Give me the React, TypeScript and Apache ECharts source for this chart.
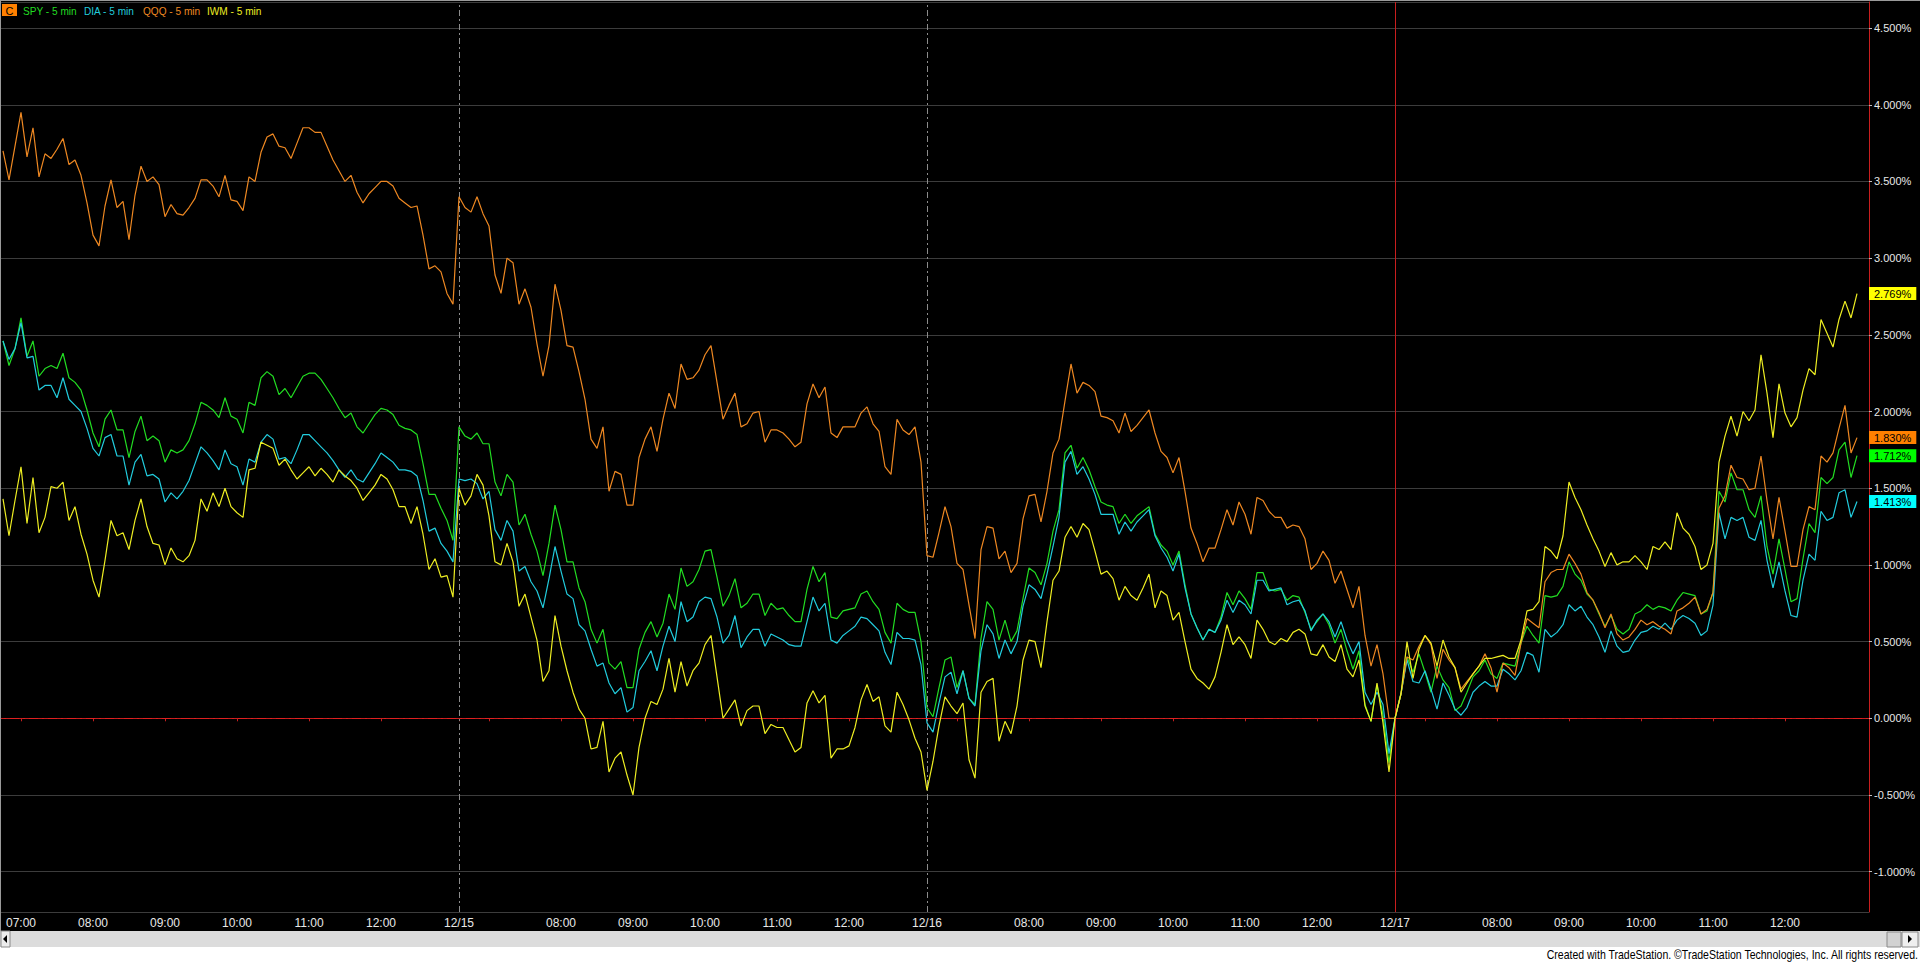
import React, { useEffect, useRef } from 'react';
import * as echarts from 'echarts';

// ---- data (percent change, 5-min bars) ----
const DAYS = ['12/14', '12/15', '12/16', '12/17'];
const BARS_PER_DAY = 78; // 06:35 .. 13:00
const FIRST_BAR = 2; // first visible bar of the 12/14 session (06:45)
const SYMBOLS = ['SPY - 5 min', 'DIA - 5 min', 'QQQ - 5 min', 'IWM - 5 min'];
const LINE_COLORS = ['#22dd22', '#22ccdd', '#ee8822', '#eeee22'];
const BOX_COLORS = ['#00ff00', '#00ffff', '#ff8000', '#ffff00'];

const SPY_1214 = [2.46,2.30,2.41,2.61,2.36,2.46,2.23,2.28,2.30,2.28,2.38,2.22,2.19,2.14,2.01,1.86,1.77,1.95,2.01,1.88,1.88,1.70,1.87,1.97,1.81,1.84,1.81,1.67,1.75,1.73,1.75,1.81,1.92,2.06,2.04,2.01,1.96,2.09,1.97,1.95,1.86,2.06,2.04,2.22,2.26,2.23,2.11,2.15,2.09,2.16,2.23,2.25,2.25,2.21,2.15,2.09,2.02,1.96,1.99,1.90,1.86,1.92,1.98,2.02,2.01,1.98,1.91,1.89,1.88,1.85,1.66,1.46,1.46,1.37,1.29,1.16];
const SPY_1215 = [1.90,1.84,1.82,1.86,1.79,1.79,1.54,1.45,1.59,1.54,1.26,1.33,1.20,1.09,0.93,1.14,1.39,1.23,1.02,1.02,0.85,0.76,0.58,0.49,0.58,0.36,0.32,0.37,0.20,0.20,0.45,0.56,0.63,0.53,0.62,0.81,0.71,0.98,0.86,0.89,0.97,1.09,1.10,0.92,0.73,0.80,0.91,0.72,0.75,0.81,0.81,0.67,0.75,0.71,0.72,0.67,0.63,0.63,0.84,0.99,0.89,0.95,0.66,0.65,0.70,0.71,0.72,0.81,0.83,0.76,0.71,0.56,0.49,0.75,0.71,0.69,0.69,0.50];
const SPY_1216 = [0.07,0.01,0.20,0.38,0.40,0.20,0.31,0.13,0.09,0.52,0.76,0.71,0.51,0.64,0.50,0.57,0.78,0.98,0.95,0.87,1.01,1.22,1.36,1.73,1.78,1.63,1.70,1.62,1.51,1.41,1.39,1.38,1.27,1.33,1.27,1.32,1.35,1.38,1.20,1.13,1.09,1.00,1.09,0.87,0.68,0.59,0.51,0.58,0.56,0.66,0.82,0.74,0.83,0.78,0.71,0.95,0.95,0.84,0.83,0.84,0.77,0.80,0.79,0.69,0.58,0.63,0.68,0.61,0.49,0.58,0.44,0.32,0.44,0.09,-0.02,0.22,0.02,-0.29];
const SPY_1217 = [0.00,0.16,0.40,0.30,0.42,0.30,0.17,0.34,0.25,0.20,0.05,0.08,0.17,0.27,0.31,0.38,0.29,0.26,0.36,0.35,0.34,0.49,0.60,0.54,0.49,0.80,0.79,0.80,0.86,1.02,0.94,0.90,0.81,0.77,0.68,0.60,0.67,0.58,0.55,0.58,0.68,0.70,0.74,0.71,0.73,0.72,0.70,0.77,0.82,0.81,0.80,0.68,0.70,0.82,1.48,1.41,1.60,1.49,1.49,1.36,1.31,1.45,1.12,0.94,1.17,0.97,0.76,0.78,1.04,1.27,1.21,1.57,1.53,1.57,1.75,1.80,1.57,1.712];

const DIA_1214 = [2.46,2.34,2.41,2.58,2.35,2.36,2.14,2.17,2.17,2.09,2.22,2.08,2.04,2.00,1.89,1.76,1.71,1.83,1.85,1.71,1.71,1.52,1.67,1.72,1.58,1.59,1.56,1.41,1.47,1.43,1.48,1.55,1.66,1.77,1.73,1.68,1.62,1.75,1.66,1.64,1.52,1.69,1.67,1.80,1.85,1.82,1.69,1.70,1.66,1.75,1.85,1.85,1.81,1.77,1.73,1.68,1.62,1.57,1.62,1.56,1.54,1.60,1.66,1.73,1.70,1.67,1.62,1.62,1.61,1.58,1.42,1.22,1.24,1.14,1.09,1.02];
const DIA_1215 = [1.56,1.55,1.56,1.53,1.43,1.48,1.23,1.16,1.29,1.22,0.96,0.99,0.89,0.83,0.72,0.91,1.12,0.96,0.81,0.78,0.61,0.57,0.45,0.34,0.36,0.23,0.16,0.20,0.04,0.07,0.31,0.37,0.44,0.31,0.47,0.60,0.50,0.76,0.63,0.66,0.76,0.79,0.78,0.66,0.49,0.54,0.67,0.46,0.53,0.58,0.58,0.47,0.55,0.53,0.51,0.48,0.47,0.47,0.63,0.79,0.70,0.75,0.51,0.49,0.54,0.57,0.60,0.66,0.65,0.61,0.57,0.43,0.35,0.56,0.52,0.52,0.51,0.35];
const DIA_1216 = [-0.03,-0.09,0.10,0.27,0.30,0.16,0.31,0.13,0.08,0.44,0.61,0.55,0.39,0.51,0.42,0.50,0.73,0.87,0.84,0.78,0.94,1.12,1.31,1.67,1.74,1.59,1.64,1.56,1.46,1.33,1.33,1.33,1.20,1.28,1.22,1.28,1.32,1.36,1.19,1.11,1.05,0.96,1.07,0.85,0.68,0.59,0.51,0.58,0.56,0.64,0.77,0.69,0.77,0.74,0.68,0.90,0.90,0.83,0.84,0.85,0.74,0.76,0.77,0.70,0.57,0.64,0.68,0.63,0.53,0.63,0.51,0.42,0.50,0.17,0.09,0.17,0.09,-0.23];
const DIA_1217 = [0.00,0.16,0.38,0.24,0.23,0.31,0.19,0.06,0.23,0.15,0.06,0.02,0.07,0.17,0.21,0.24,0.21,0.21,0.32,0.29,0.25,0.31,0.43,0.41,0.30,0.58,0.53,0.56,0.61,0.74,0.70,0.73,0.66,0.61,0.53,0.43,0.57,0.47,0.43,0.44,0.51,0.56,0.57,0.60,0.58,0.62,0.58,0.64,0.67,0.65,0.62,0.54,0.57,0.74,1.34,1.17,1.31,1.29,1.31,1.18,1.16,1.29,1.03,0.85,1.02,0.83,0.67,0.66,0.90,1.07,1.03,1.35,1.29,1.31,1.47,1.49,1.31,1.413];

const QQQ_1214 = [3.70,3.51,3.73,3.95,3.66,3.85,3.53,3.68,3.65,3.71,3.78,3.61,3.64,3.54,3.36,3.15,3.08,3.34,3.51,3.33,3.37,3.12,3.41,3.60,3.50,3.53,3.48,3.27,3.35,3.29,3.28,3.33,3.39,3.51,3.51,3.47,3.40,3.54,3.38,3.37,3.31,3.53,3.50,3.69,3.79,3.81,3.73,3.72,3.65,3.75,3.85,3.85,3.82,3.82,3.73,3.64,3.57,3.50,3.54,3.43,3.36,3.42,3.46,3.50,3.50,3.47,3.39,3.36,3.33,3.34,3.15,2.93,2.95,2.91,2.77,2.70];
const QQQ_1215 = [3.40,3.33,3.30,3.40,3.29,3.21,2.89,2.77,3.00,2.97,2.70,2.80,2.68,2.44,2.23,2.43,2.83,2.66,2.43,2.42,2.26,2.08,1.82,1.76,1.90,1.48,1.61,1.59,1.39,1.39,1.70,1.82,1.90,1.74,1.95,2.12,2.02,2.31,2.21,2.22,2.27,2.37,2.43,2.19,1.95,2.04,2.12,1.90,1.92,1.99,2.00,1.80,1.88,1.88,1.86,1.82,1.77,1.80,2.05,2.18,2.09,2.16,1.86,1.83,1.90,1.90,1.90,1.99,2.03,1.92,1.87,1.64,1.59,1.95,1.88,1.85,1.90,1.67];
const QQQ_1216 = [1.06,1.05,1.21,1.38,1.25,1.01,0.97,0.74,0.52,1.10,1.25,1.24,1.04,1.09,0.95,1.01,1.30,1.45,1.46,1.28,1.48,1.73,1.82,2.07,2.31,2.12,2.19,2.17,2.13,1.97,1.96,1.94,1.86,1.99,1.87,1.91,1.96,2.01,1.86,1.74,1.70,1.60,1.70,1.48,1.24,1.14,1.02,1.11,1.11,1.23,1.36,1.26,1.41,1.33,1.20,1.44,1.42,1.35,1.31,1.31,1.24,1.26,1.25,1.17,0.97,1.01,1.09,1.03,0.88,0.96,0.84,0.72,0.86,0.54,0.34,0.48,0.29,0.00];
const QQQ_1217 = [0.00,0.16,0.40,0.38,0.47,0.54,0.48,0.26,0.45,0.38,0.33,0.19,0.24,0.29,0.34,0.42,0.33,0.17,0.36,0.33,0.28,0.49,0.65,0.62,0.59,0.89,0.95,0.97,0.97,1.07,1.01,0.94,0.82,0.77,0.69,0.59,0.68,0.55,0.51,0.53,0.58,0.64,0.61,0.63,0.60,0.58,0.55,0.70,0.72,0.75,0.79,0.68,0.71,0.82,1.37,1.45,1.65,1.57,1.56,1.49,1.50,1.71,1.42,1.17,1.44,1.22,0.99,0.99,1.23,1.38,1.36,1.71,1.67,1.73,1.89,2.04,1.73,1.830];

const IWM_1214 = [1.43,1.19,1.42,1.64,1.27,1.57,1.21,1.31,1.51,1.50,1.54,1.29,1.38,1.20,1.07,0.90,0.79,1.03,1.29,1.19,1.21,1.10,1.29,1.43,1.25,1.14,1.13,1.00,1.11,1.04,1.02,1.06,1.16,1.43,1.35,1.47,1.38,1.50,1.38,1.34,1.31,1.62,1.63,1.80,1.78,1.76,1.65,1.69,1.62,1.56,1.60,1.64,1.58,1.63,1.59,1.54,1.62,1.58,1.55,1.50,1.42,1.47,1.52,1.59,1.56,1.49,1.38,1.38,1.27,1.38,1.20,0.97,1.04,0.92,0.93,0.79];
const IWM_1215 = [1.50,1.39,1.45,1.59,1.52,1.32,1.02,1.00,1.14,1.02,0.73,0.81,0.66,0.51,0.24,0.31,0.67,0.47,0.31,0.17,0.06,0.00,-0.20,-0.19,-0.02,-0.35,-0.26,-0.22,-0.37,-0.50,-0.19,0.00,0.11,0.09,0.19,0.39,0.17,0.37,0.21,0.31,0.36,0.48,0.54,0.27,0.00,0.06,0.12,-0.05,0.05,0.08,0.08,-0.10,-0.04,-0.06,-0.06,-0.14,-0.22,-0.19,0.10,0.18,0.10,0.15,-0.26,-0.20,-0.20,-0.18,-0.06,0.12,0.22,0.11,0.14,-0.05,-0.09,0.17,0.09,-0.01,-0.13,-0.22];
const IWM_1216 = [-0.47,-0.28,-0.05,0.14,0.08,0.03,0.10,-0.27,-0.39,0.17,0.24,0.26,-0.15,-0.02,-0.10,0.08,0.38,0.51,0.50,0.33,0.63,0.90,0.96,1.18,1.25,1.18,1.27,1.23,1.09,0.94,0.96,0.91,0.77,0.86,0.80,0.77,0.85,0.94,0.72,0.83,0.80,0.64,0.69,0.50,0.32,0.26,0.23,0.19,0.27,0.43,0.61,0.48,0.53,0.48,0.39,0.64,0.58,0.50,0.48,0.52,0.50,0.56,0.58,0.55,0.42,0.41,0.48,0.40,0.37,0.48,0.32,0.27,0.38,0.08,-0.02,0.23,-0.03,-0.35];
const IWM_1217 = [0.00,0.16,0.50,0.26,0.45,0.54,0.49,0.34,0.51,0.40,0.33,0.17,0.23,0.29,0.34,0.39,0.39,0.40,0.41,0.39,0.39,0.51,0.70,0.71,0.76,1.12,1.09,1.04,1.19,1.54,1.44,1.36,1.26,1.17,1.09,0.99,1.08,1.00,1.02,1.02,1.06,1.02,0.97,1.12,1.10,1.15,1.10,1.34,1.24,1.20,1.12,0.97,1.00,1.14,1.67,1.84,1.97,1.84,2.00,1.94,2.01,2.37,2.12,1.83,2.18,1.99,1.90,1.96,2.14,2.28,2.24,2.60,2.51,2.42,2.60,2.72,2.61,2.769];

const SERIES_DAYS = [
  [SPY_1214, SPY_1215, SPY_1216, SPY_1217],
  [DIA_1214, DIA_1215, DIA_1216, DIA_1217],
  [QQQ_1214, QQQ_1215, QQQ_1216, QQQ_1217],
  [IWM_1214, IWM_1215, IWM_1216, IWM_1217],
];

const COPYRIGHT = 'Created with TradeStation. \u00A9TradeStation Technologies, Inc. All rights reserved.';

// ---- axis helpers ----
const TOTAL_CATS = BARS_PER_DAY * 4 + 2; // two empty bars right of the last session
const pad2 = (n: number) => (n < 10 ? '0' + n : '' + n);
function barInfo(i: number) {
  const d = Math.floor(i / BARS_PER_DAY);
  const k = i % BARS_PER_DAY;
  const mins = 6 * 60 + 35 + 5 * k;
  return { d, k, h: Math.floor(mins / 60), m: mins % 60 };
}
function labelFor(i: number): string {
  const { d, k, h, m } = barInfo(i);
  if (d > 3) return '';
  if (k === 0 && d > 0) return DAYS[d];
  if (m === 0 && h >= 7 && h <= 12 && !(d > 0 && h === 7)) return pad2(h) + ':00';
  return '';
}
function hasTick(i: number): boolean {
  const { d, k, h, m } = barInfo(i);
  if (d > 3) return false;
  if (k === 0 && d > 0) return true;
  return m === 0 && h >= 7 && h <= 12;
}
const CATEGORIES = Array.from({ length: TOTAL_CATS }, (_, i) => {
  const { d, h, m } = barInfo(i);
  return (DAYS[d] || 'x') + ' ' + pad2(h) + ':' + pad2(m) + '#' + i;
});

function toPoints(days: number[][]) {
  const pts: [number, number][] = [];
  days.forEach((arr, d) => {
    const start = d === 0 ? FIRST_BAR : 0;
    arr.forEach((v, j) => pts.push([d * BARS_PER_DAY + start + j, v]));
  });
  return pts;
}

const SANS = "'Liberation Sans', Arial, sans-serif";
const RED = '#c81e1e';

function buildOption() {
  const series: any[] = SERIES_DAYS.map((days, s) => ({
    name: SYMBOLS[s],
    type: 'line',
    data: toPoints(days),
    showSymbol: false,
    symbol: 'none',
    lineStyle: { color: LINE_COLORS[s], width: 1.2 },
    itemStyle: { color: LINE_COLORS[s] },
    z: 3 + s,
    endLabel: {
      show: true,
      formatter: (p: any) => Number(p.value[1]).toFixed(3) + '%',
      color: '#000',
      backgroundColor: BOX_COLORS[s],
      padding: [1, 5, 1, 5],
      fontSize: 11,
      fontFamily: SANS,
      distance: 12,
    },
  }));

  series[0].markLine = {
    silent: true,
    symbol: ['none', 'none'],
    label: { show: false },
    animation: false,
    data: [
      { xAxis: CATEGORIES[BARS_PER_DAY], lineStyle: { color: '#8c8c8c', type: [6, 3, 2, 3], width: 1 } },
      { xAxis: CATEGORIES[BARS_PER_DAY * 2], lineStyle: { color: '#8c8c8c', type: [6, 3, 2, 3], width: 1 } },
      { xAxis: CATEGORIES[BARS_PER_DAY * 3], lineStyle: { color: RED, type: 'solid', width: 1 } },
      { yAxis: 0, lineStyle: { color: '#e02020', type: [9, 4, 2, 4], width: 1 } },
    ],
  };

  return {
    animation: false,
    backgroundColor: '#000000',
    grid: { left: -9, right: 51, top: 2, bottom: 50, containLabel: false, outerBoundsMode: 'none' },
    xAxis: {
      type: 'category',
      data: CATEGORIES,
      boundaryGap: false,
      axisLine: { show: true, lineStyle: { color: RED, width: 1 } },
      axisTick: {
        show: true,
        length: 3,
        interval: (idx: number) => hasTick(idx),
        lineStyle: { color: RED },
      },
      axisLabel: {
        show: true,
        interval: (idx: number) => labelFor(idx) !== '',
        formatter: (_v: string, idx: number) => labelFor(idx),
        color: '#e8e8e8',
        fontSize: 12,
        fontFamily: SANS,
        margin: 5,
      },
      splitLine: { show: false },
    },
    yAxis: {
      type: 'value',
      position: 'right',
      min: -1.263,
      max: 4.67,
      splitNumber: 12,
      minInterval: 0.5,
      maxInterval: 0.5,
      axisLine: { show: true, lineStyle: { color: RED, width: 1 } },
      axisTick: { show: true, length: 3, lineStyle: { color: '#bdbdbd' } },
      axisLabel: {
        show: true,
        color: '#e8e8e8',
        fontSize: 11,
        fontFamily: SANS,
        margin: 5,
        showMinLabel: false,
        showMaxLabel: false,
        formatter: (v: number) => {
          const q = v / 0.5;
          return Math.abs(q - Math.round(q)) < 1e-6 ? v.toFixed(3) + '%' : '';
        },
      },
      splitLine: { show: true, lineStyle: { color: '#3c3c3c', width: 1 } },
    },
    series,
    graphic: [
      // frame
      { type: 'rect', z: 50, shape: { x: 0, y: 0, width: 1920, height: 1 }, style: { fill: '#9a9a9a' } },
      { type: 'rect', z: 50, shape: { x: 0, y: 0, width: 1, height: 931 }, style: { fill: '#9a9a9a' } },
      // legend
      { type: 'rect', z: 50, shape: { x: 2, y: 4, width: 15, height: 12 }, style: { fill: '#ff8000' } },
      { type: 'text', z: 51, x: 9.5, y: 10.5, style: { text: 'C', fill: '#000', fontSize: 11, fontFamily: SANS, align: 'center', verticalAlign: 'middle' } },
      { type: 'text', z: 51, x: 23, y: 10.5, scaleX: 0.92, style: { text: SYMBOLS[0], fill: LINE_COLORS[0], fontSize: 11, fontFamily: SANS, align: 'left', verticalAlign: 'middle' } },
      { type: 'text', z: 51, x: 84, y: 10.5, scaleX: 0.92, style: { text: SYMBOLS[1], fill: LINE_COLORS[1], fontSize: 11, fontFamily: SANS, align: 'left', verticalAlign: 'middle' } },
      { type: 'text', z: 51, x: 143, y: 10.5, scaleX: 0.92, style: { text: SYMBOLS[2], fill: LINE_COLORS[2], fontSize: 11, fontFamily: SANS, align: 'left', verticalAlign: 'middle' } },
      { type: 'text', z: 51, x: 207, y: 10.5, scaleX: 0.92, style: { text: SYMBOLS[3], fill: LINE_COLORS[3], fontSize: 11, fontFamily: SANS, align: 'left', verticalAlign: 'middle' } },
      // scrollbar
      { type: 'rect', z: 60, shape: { x: 0, y: 931, width: 1920, height: 16 }, style: { fill: '#dcdcdc' } },
      { type: 'rect', z: 61, shape: { x: 1, y: 931, width: 9, height: 16 }, style: { fill: '#ececec', stroke: '#8a8a8a', lineWidth: 1 } },
      { type: 'polygon', z: 62, shape: { points: [[7, 935], [7, 943], [3, 939]] }, style: { fill: '#000' } },
      { type: 'rect', z: 61, shape: { x: 1887, y: 932, width: 14, height: 15 }, style: { fill: '#d2d2d2', stroke: '#8a8a8a', lineWidth: 1 } },
      { type: 'rect', z: 61, shape: { x: 1902, y: 932, width: 16, height: 15 }, style: { fill: '#efefef', stroke: '#8a8a8a', lineWidth: 1 } },
      { type: 'polygon', z: 62, shape: { points: [[1908, 935], [1908, 943], [1912, 939]] }, style: { fill: '#000' } },
      // footer
      { type: 'rect', z: 60, shape: { x: 0, y: 947, width: 1920, height: 15 }, style: { fill: '#ffffff' } },
      { type: 'text', z: 61, x: 1918, y: 955, scaleX: 0.81, style: { text: COPYRIGHT, fill: '#000', fontSize: 13, fontFamily: SANS, align: 'right', verticalAlign: 'middle' } },
    ],
  };
}

export default function App() {
  const ref = useRef<HTMLDivElement>(null);
  useEffect(() => {
    document.body.style.margin = '0';
    if (!ref.current) return;
    const chart = echarts.init(ref.current, null, { renderer: 'svg' });
    chart.setOption(buildOption() as any);
    return () => chart.dispose();
  }, []);
  return <div ref={ref} style={{ width: 1920, height: 962, position: 'absolute', left: 0, top: 0 }} />;
}
